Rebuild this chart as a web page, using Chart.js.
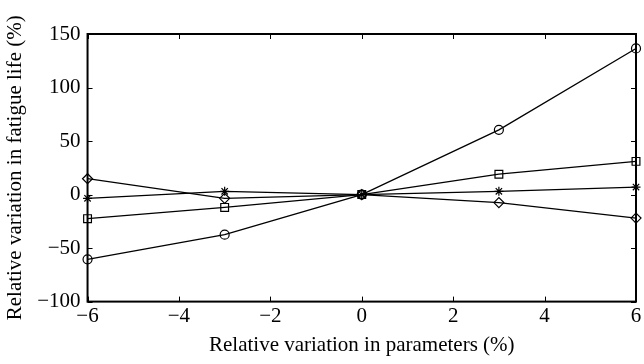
<!DOCTYPE html>
<html>
<head>
<script src="https://cdn.jsdelivr.net/npm/chart.js"></script>
<style>
    body { margin: 0; background: #fff; }
    #wrap { width: 644px; height: 364px; }
</style>
</head>
<body>
<div id="wrap"><canvas id="myChart"></canvas></div>
<script>
    const xValues = [-6, -3, 0, 3, 6]
    const circleValues = [-60.5, -37.5, 0, 60.5, 136.5]
    const squareValues = [-22.5, -12, 0, 19, 31]
    const starValues = [-3.5, 3, 0, 3, 7]
    const diamondValues = [14.8, -3.5, 0, -7.5, -22]
    const xTicks = [-6, -4, -2, 0, 2, 4, 6]
    const yTicks = [-100, -50, 0, 50, 100, 150]

    const toPoints = vals => vals.map((v, i) => ({ x: xValues[i], y: v }))

    const _series = [
        [circleValues, 'circle', 4.5],
        [squareValues, 'rect', 5.5],
        [starValues, 'star', 4.5],
        [diamondValues, 'rectRot', 5]
    ]
    let _datasets = []
    for (let i = 0; i < _series.length; i++) {
        _datasets.push({
            data: toPoints(_series[i][0]),
            borderColor: '#000',
            backgroundColor: 'rgba(0,0,0,0)',
            borderWidth: 1.3,
            pointStyle: _series[i][1],
            pointRadius: _series[i][2],
            pointBorderWidth: 1.2,
            pointBorderColor: '#000',
            pointBackgroundColor: 'rgba(0,0,0,0)',
            tension: 0,
            clip: false
        })
    }

    // inward ticks on all four sides plus the frame
    const frame = {
        id: 'frame',
        afterDraw(chart) {
            const ctx = chart.ctx
            const a = chart.chartArea
            const xs = chart.scales.x, ys = chart.scales.y
            const len = 5
            ctx.save()
            ctx.strokeStyle = '#000'
            ctx.lineWidth = 1
            ctx.beginPath()
            xTicks.forEach(t => {
                const px = Math.round(xs.getPixelForValue(t)) + 0.5
                ctx.moveTo(px, a.bottom); ctx.lineTo(px, a.bottom - len)
                ctx.moveTo(px, a.top); ctx.lineTo(px, a.top + len)
            })
            yTicks.forEach(t => {
                const py = Math.round(ys.getPixelForValue(t)) + 0.5
                ctx.moveTo(a.left, py); ctx.lineTo(a.left + len, py)
                ctx.moveTo(a.right, py); ctx.lineTo(a.right - len, py)
            })
            ctx.stroke()
            ctx.lineWidth = 2
            ctx.strokeRect(a.left, a.top, a.right - a.left, a.bottom - a.top)
            ctx.restore()
        }
    }

    const font = { family: '"Liberation Serif", "DejaVu Serif", serif', size: 21 }

    new Chart(document.getElementById('myChart'), {
        type: 'line',
        data: { datasets: _datasets },
        options: {
            responsive: true,
            maintainAspectRatio: false,
            animation: false,
            layout: { padding: { top: 34, right: 8, left: 3, bottom: 2 } },
            plugins: { legend: { display: false }, tooltip: { enabled: false } },
            scales: {
                x: {
                    type: 'linear',
                    min: -6, max: 6,
                    afterBuildTicks: s => { s.ticks = xTicks.map(v => ({ value: v })) },
                    grid: { display: false, drawTicks: false },
                    border: { display: false },
                    ticks: {
                        color: '#000', font: font, padding: 2, maxRotation: 0,
                        callback: v => String(v).replace('-', '\u2212')
                    },
                    title: { display: true, text: 'Relative variation in parameters (%)', color: '#000', font: font, padding: { top: 2, bottom: 4 } }
                },
                y: {
                    type: 'linear',
                    min: -100, max: 150,
                    afterBuildTicks: s => { s.ticks = yTicks.map(v => ({ value: v })) },
                    grid: { display: false, drawTicks: false },
                    border: { display: false },
                    ticks: {
                        color: '#000', font: font, padding: 7,
                        callback: v => String(v).replace('-', '\u2212')
                    },
                    title: { display: true, text: 'Relative variation in fatigue life (%)', color: '#000', font: font, padding: { top: 0, bottom: 2 } }
                }
            }
        },
        plugins: [frame]
    })
</script>
</body>
</html>
